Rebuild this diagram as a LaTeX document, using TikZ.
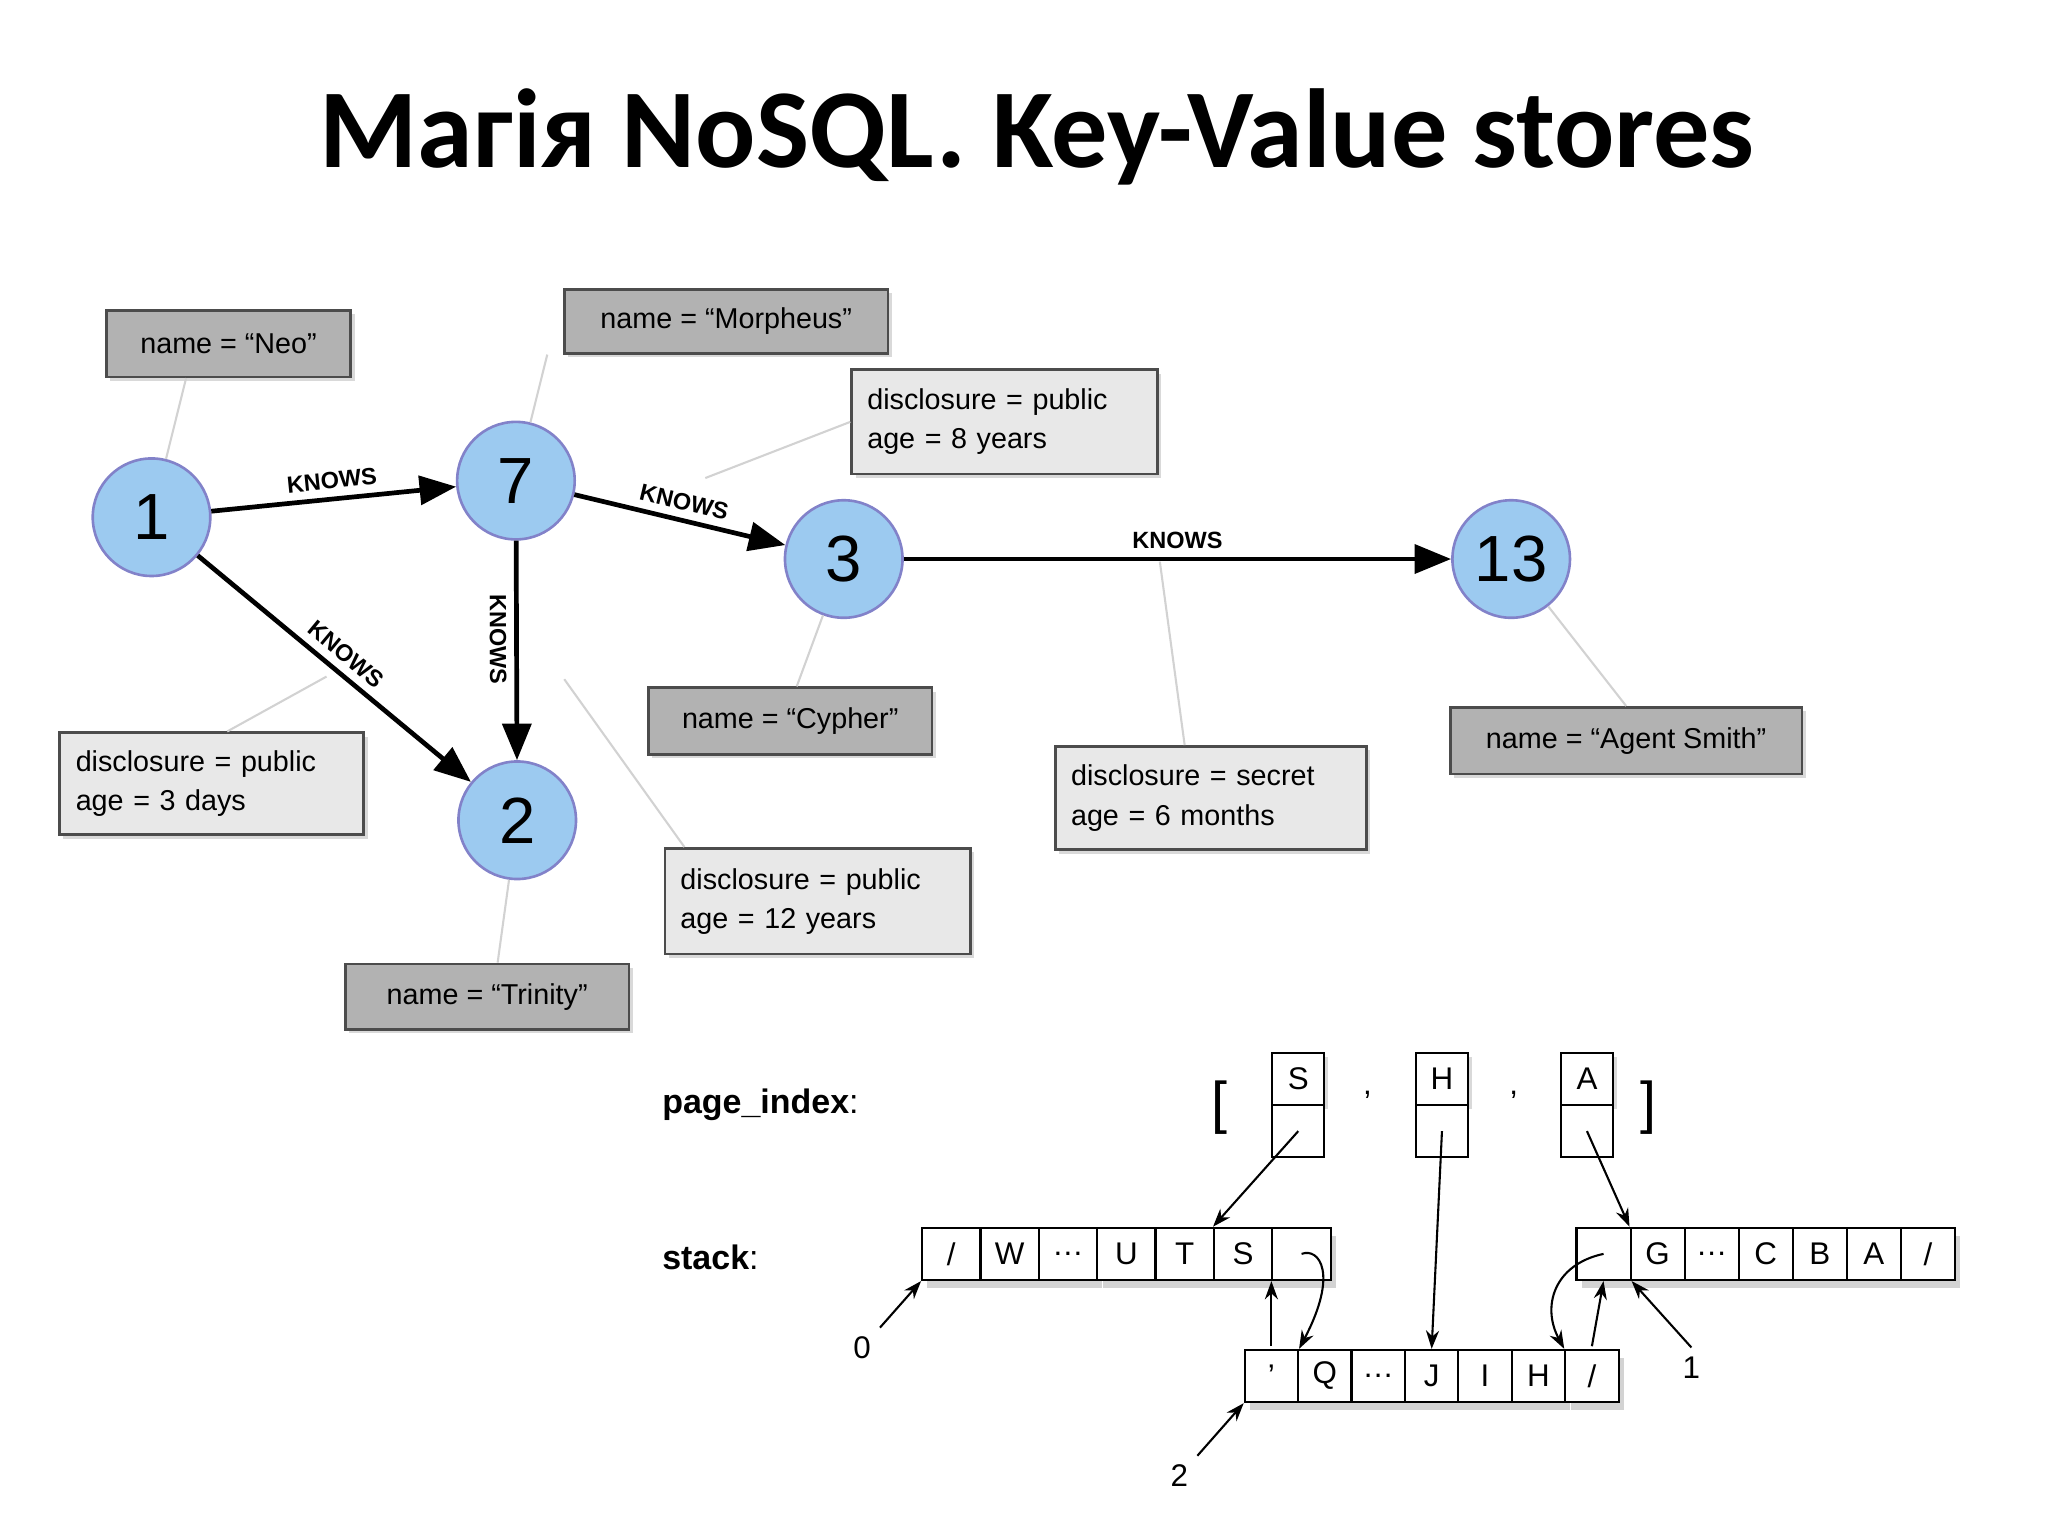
\documentclass[tikz,border=0pt]{standalone}
\usepackage{fontspec}
\setmainfont{Liberation Sans}
\newfontfamily\titlefont{Carlito}
\usetikzlibrary{arrows.meta,shadows}
\newcommand\mydots{.\kern0.5pt.\kern0.5pt.}
\newcommand\mysl{/}
\begin{document}
\begin{tikzpicture}[x=0.5pt,y=-0.5pt,
  vtx/.style={circle,draw=blue!40!gray!70,line width=1pt,fill={rgb,255:red,156;green,202;blue,240},minimum size=45pt,inner sep=0pt,font=\fontsize{25}{25}\selectfont},
  dark/.style={draw=gray!60!black,line width=1pt,fill=gray!60,font=\fontsize{11}{13}\selectfont,inner sep=0pt,drop shadow={opacity=0.3,shadow xshift=1.5pt,shadow yshift=-1.5pt}},
  light/.style={draw=gray!60!black,line width=1pt,fill=gray!18,font=\fontsize{11}{15}\selectfont,align=left,inner sep=0pt,drop shadow={opacity=0.3,shadow xshift=1.5pt,shadow yshift=-1.5pt}},
  lnk/.style={draw=gray!35,line width=0.8pt},
  rel/.style={draw=black,line width=1.8pt,-{Triangle[length=14pt,width=11pt]}},
  lab/.style={font=\bfseries\fontsize{9}{9}\selectfont,sloped,above,inner sep=3pt},
  cell/.style={draw=black,line width=0.8pt,fill=white,minimum height=20pt,inner sep=0pt,font=\fontsize{12}{12}\selectfont},
  ptr/.style={draw=black,line width=0.8pt,-{Stealth[length=7pt,width=5pt]}},
  blab/.style={font=\fontsize{12}{12}\selectfont}]
\useasboundingbox (0,0) rectangle (1568,1176);
\node[font=\titlefont\bfseries\fontsize{43}{43}\selectfont] (title) at (794,105) {Магія NoSQL. Key-Value stores};
% vertices
\node[vtx] (n1) at (116,396) {1};
\node[vtx] (n7) at (395,368) {7};
\node[vtx] (n3) at (646,428) {3};
\node[vtx] (n13) at (1157,428) {13};
\node[vtx] (n2) at (396,628) {2};
% property boxes
\node[dark,minimum width=93.5pt,minimum height=25.5pt] (pneo) at (175,263) {name = “Neo”};
\node[dark,minimum width=124pt,minimum height=24.5pt] (pmor) at (556,246) {name = “Morpheus”};
\node[light,minimum width=117pt,minimum height=40pt,text width=105pt] (p8) at (769,323) {disclosure = public\\age = 8 years};
\node[dark,minimum width=108.5pt,minimum height=25.5pt] (pcy) at (605,552) {name = “Cypher”};
\node[light,minimum width=119pt,minimum height=39.5pt,text width=107pt] (p6) at (927,611) {disclosure = secret\\age = 6 months};
\node[dark,minimum width=134.5pt,minimum height=25.5pt] (pas) at (1245,567) {name = “Agent Smith”};
\node[light,minimum width=116.5pt,minimum height=39pt,text width=104pt] (p3d) at (162,600) {disclosure = public\\age = 3 days};
\node[light,minimum width=117pt,minimum height=40.5pt,text width=105pt] (p12) at (626,690) {disclosure = public\\age = 12 years};
\node[dark,minimum width=108.5pt,minimum height=25pt] (ptr) at (373,763) {name = “Trinity”};
% edges
\draw[rel] (n1) -- node[lab]{KNOWS} (n7);
\draw[rel] (n7) -- node[lab]{KNOWS} (n3);
\draw[rel] (n3) -- node[lab]{KNOWS} (n13);
\draw[rel] (n1) -- node[lab,pos=0.5](k12){KNOWS} (n2);
\draw[rel] (n7) -- node[lab,below,pos=0.45](k72){KNOWS} (n2);
\coordinate (e12) at (250,518);
\coordinate (e72) at (432,520);
\coordinate (e8) at (540,366);
\coordinate (e6) at (888,430);
% property links
\draw[lnk] (pneo.south west) ++(62,0) -- (n1);
\draw[lnk] (pmor.south west) ++(-12,0) -- (n7);
\draw[lnk] (p8.west) -- (e8);
\draw[lnk] (pcy.north) ++(5,0) -- (n3);
\draw[lnk] (p6.north) ++(-20,0) -- (e6);
\draw[lnk] (pas.north) -- (n13);
\draw[lnk] (p3d.north) ++(12,0) -- (e12);
\draw[lnk] (p12.north west) ++(16,0) -- (e72);
\draw[lnk] (ptr.north) ++(8,0) -- (n2);
% lower part
\node[font=\bfseries\fontsize{13}{13}\selectfont,anchor=west] (pil) at (500,846) {page\_index\textmd{:}};
\node[font=\bfseries\fontsize{13}{13}\selectfont,anchor=west] (stl) at (500,963) {stack\textmd{:}};
\node[font=\fontsize{22}{22}\selectfont] (lb) at (934,848) {[};
\node[font=\fontsize{22}{22}\selectfont] (rb) at (1262,848) {]};
\node[blab] (cm1) at (1047,838) {,};
\node[blab] (cm2) at (1159,838) {,};
% page index cells
\foreach \nm/\x in {S/994,H/1104,A/1215}{
  \node[cell,minimum width=20pt,drop shadow={opacity=0.3,shadow xshift=1.5pt,shadow yshift=-1.5pt}] (pt\nm) at (\x,826) {\nm};
  \node[cell,minimum width=20pt] (pb\nm) at (\x,866) {};
}
% stack rows
\foreach \i/\t in {0/\mysl,1/W,2/\mydots,3/U,4/T,5/S,6/{}}{
  \node[cell,minimum width=22.3pt,drop shadow={opacity=0.35,shadow xshift=2pt,shadow yshift=-3pt}] (a\i) at (728.3+44.7*\i,960) {\t};
}
\foreach \i/\t in {0/{},1/G,2/\mydots,3/C,4/B,5/A,6/\mysl}{
  \node[cell,minimum width=20.7pt,drop shadow={opacity=0.35,shadow xshift=2pt,shadow yshift=-3pt}] (b\i) at (1227.7+41.4*\i,960) {\t};
}
\foreach \i/\t in {0/{'},1/Q,2/\mydots,3/J,4/I,5/H,6/\mysl}{
  \node[cell,minimum width=20.4pt,drop shadow={opacity=0.35,shadow xshift=2pt,shadow yshift=-3pt}] (c\i) at (973.4+40.9*\i,1053.5) {\t};
}
% pointers
\draw[ptr] (pbS.center) -- (a5.north west);
\draw[ptr] (pbH.center) -- (c3.north);
\draw[ptr] (pbA.center) -- (b1.north west);
\draw[ptr] (a6.center) .. controls (1010,955) and (1025,975) .. (c0.north east);
\draw[ptr] (c0.north) ++(0,-2) -- (a6.south west);
\draw[ptr] (b0.center) .. controls (1190,968) and (1180,1000) .. (c6.north west);
\draw[ptr] (c6.north) ++(0,-2) -- (b0.south);
\node[blab] (l0) at (660,1032) {0};
\node[blab] (l1) at (1295,1047) {1};
\node[blab] (l2) at (903,1130) {2};
\draw[ptr] (l0.north east) -- (a0.south west);
\draw[ptr] (l1.north) -- (b0.south east);
\draw[ptr] (l2.north east) -- (c0.south west);
\end{tikzpicture}
\end{document}
